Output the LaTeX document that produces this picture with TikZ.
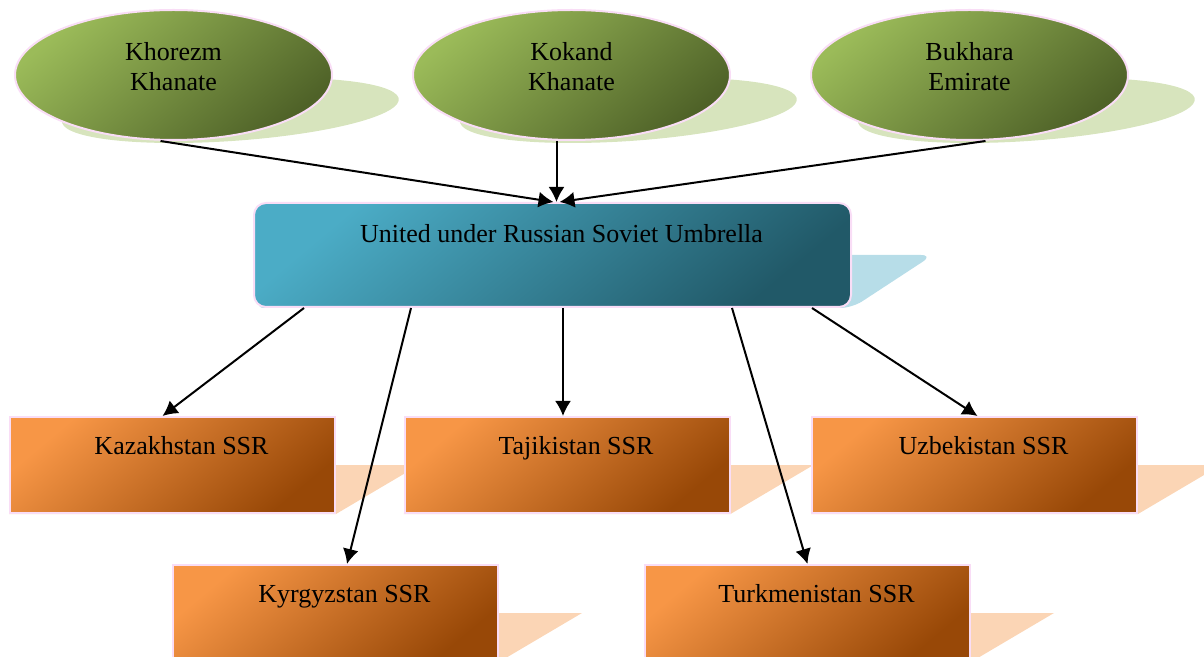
\documentclass[tikz,border=0pt]{standalone}
\usepackage{fontspec}
\setmainfont{Liberation Serif}
\usetikzlibrary{arrows.meta, shapes.geometric, calc, backgrounds}

\definecolor{olivelight}{HTML}{9BBB59}
\definecolor{olivedark}{HTML}{4F6228}
\definecolor{oliveshadow}{HTML}{D7E4BD}
\definecolor{aqualight}{HTML}{4BACC6}
\definecolor{aquadark}{HTML}{215968}
\definecolor{aquashadow}{HTML}{B7DDE8}
\definecolor{orangelight}{HTML}{F79646}
\definecolor{orangedark}{HTML}{984807}
\definecolor{orangeshadow}{HTML}{FBD5B5}
\definecolor{rimpink}{HTML}{F9DDF6}

\begin{document}
\begin{tikzpicture}[
    x=0.5pt, y=-0.5pt,
    every node/.style={font=\fontsize{13pt}{15pt}\selectfont, text=black},
    rim/.style={draw=rimpink, line width=1pt},
    khanatebox/.style={
        ellipse,
        rim,
        top color=olivelight,
        bottom color=olivedark,
        shading angle=40,
        minimum width=158.5pt,
        minimum height=65pt,
        inner sep=0pt,
        text depth=9pt,
        align=center
    },
    unionbox/.style={
        rectangle,
        rounded corners=6pt,
        rim,
        top color=aqualight,
        bottom color=aquadark,
        shading angle=40,
        minimum width=298.5pt,
        inner ysep=0pt,
        text height=20pt,
        text depth=32pt,
        execute at begin node=\hspace*{9pt}
    },
    ssrbox/.style={
        rectangle,
        rim,
        top color=orangelight,
        bottom color=orangedark,
        shading angle=40,
        minimum width=162.5pt,
        inner ysep=0pt,
        text height=18.5pt,
        text depth=29.5pt,
        execute at begin node=\hspace*{9pt}
    },
    link/.style={
        line width=1pt,
        -{Latex[length=7.5pt, width=8pt]},
        draw=black
    }
]
\useasboundingbox (0,0) rectangle (1204,657);

% Khanates
\node[khanatebox] (kho) at (173.5,75) {Khorezm\\Khanate};
\node[khanatebox] (kok) at (571.5,75) {Kokand\\Khanate};
\node[khanatebox] (buk) at (969.5,75) {Bukhara\\Emirate};

% Union
\node[unionbox] (union) at (552.5,255) {United under Russian Soviet Umbrella};

% Republics
\node[ssrbox] (kaz) at (172.5,465) {Kazakhstan SSR};
\node[ssrbox] (taj) at (567,465) {Tajikistan SSR};
\node[ssrbox] (uzb) at (974.5,465) {Uzbekistan SSR};
\node[ssrbox] (kyr) at (335.5,613) {Kyrgyzstan SSR};
\node[ssrbox] (tur) at (807.5,613) {Turkmenistan SSR};

% Flat shadows
\begin{scope}[on background layer]
    \foreach \e in {kho,kok,buk}
        \fill[oliveshadow, shift={($(\e.south)+(0,2)$)}, xslant=1.75, yscale=0.5]
            (0,-65) ellipse [x radius=158.5, y radius=65];
    \fill[aquashadow, rounded corners=6pt] (union.south west) -- (union.south east)
        -- ($(union.east)+(81,0)$) -- ($(union.west)+(81,0)$) -- cycle;
    \foreach \b in {kaz,taj,uzb,kyr,tur}
        \fill[orangeshadow] (\b.south west) -- (\b.south east)
            -- ($(\b.east)+(83,0)$) -- ($(\b.west)+(83,0)$) -- cycle;
\end{scope}

% Khanates into the union
\draw[link] ($(kho.south)+(-13,0)$) -- ($(union.north)+(1,0)$);
\draw[link] ($(kok.south)+(-15,0)$) -- ($(union.north)+(4,0)$);
\draw[link] ($(buk.south)+(16,0)$) -- ($(union.north)+(7,0)$);

% Union into the republics
\draw[link] ($(union.south west)+(51,0)$) -- ($(kaz.north)+(-10,0)$);
\draw[link] ($(union.south west)+(158,0)$) -- ($(kyr.north)+(11.5,0)$);
\draw[link] ($(union.south)+(10.5,0)$) -- ($(taj.north)+(-4,0)$);
\draw[link] ($(union.south east)+(-120,0)$) -- (tur.north);
\draw[link] ($(union.south east)+(-40,0)$) -- ($(uzb.north)+(3,0)$);

\end{tikzpicture}
\end{document}
